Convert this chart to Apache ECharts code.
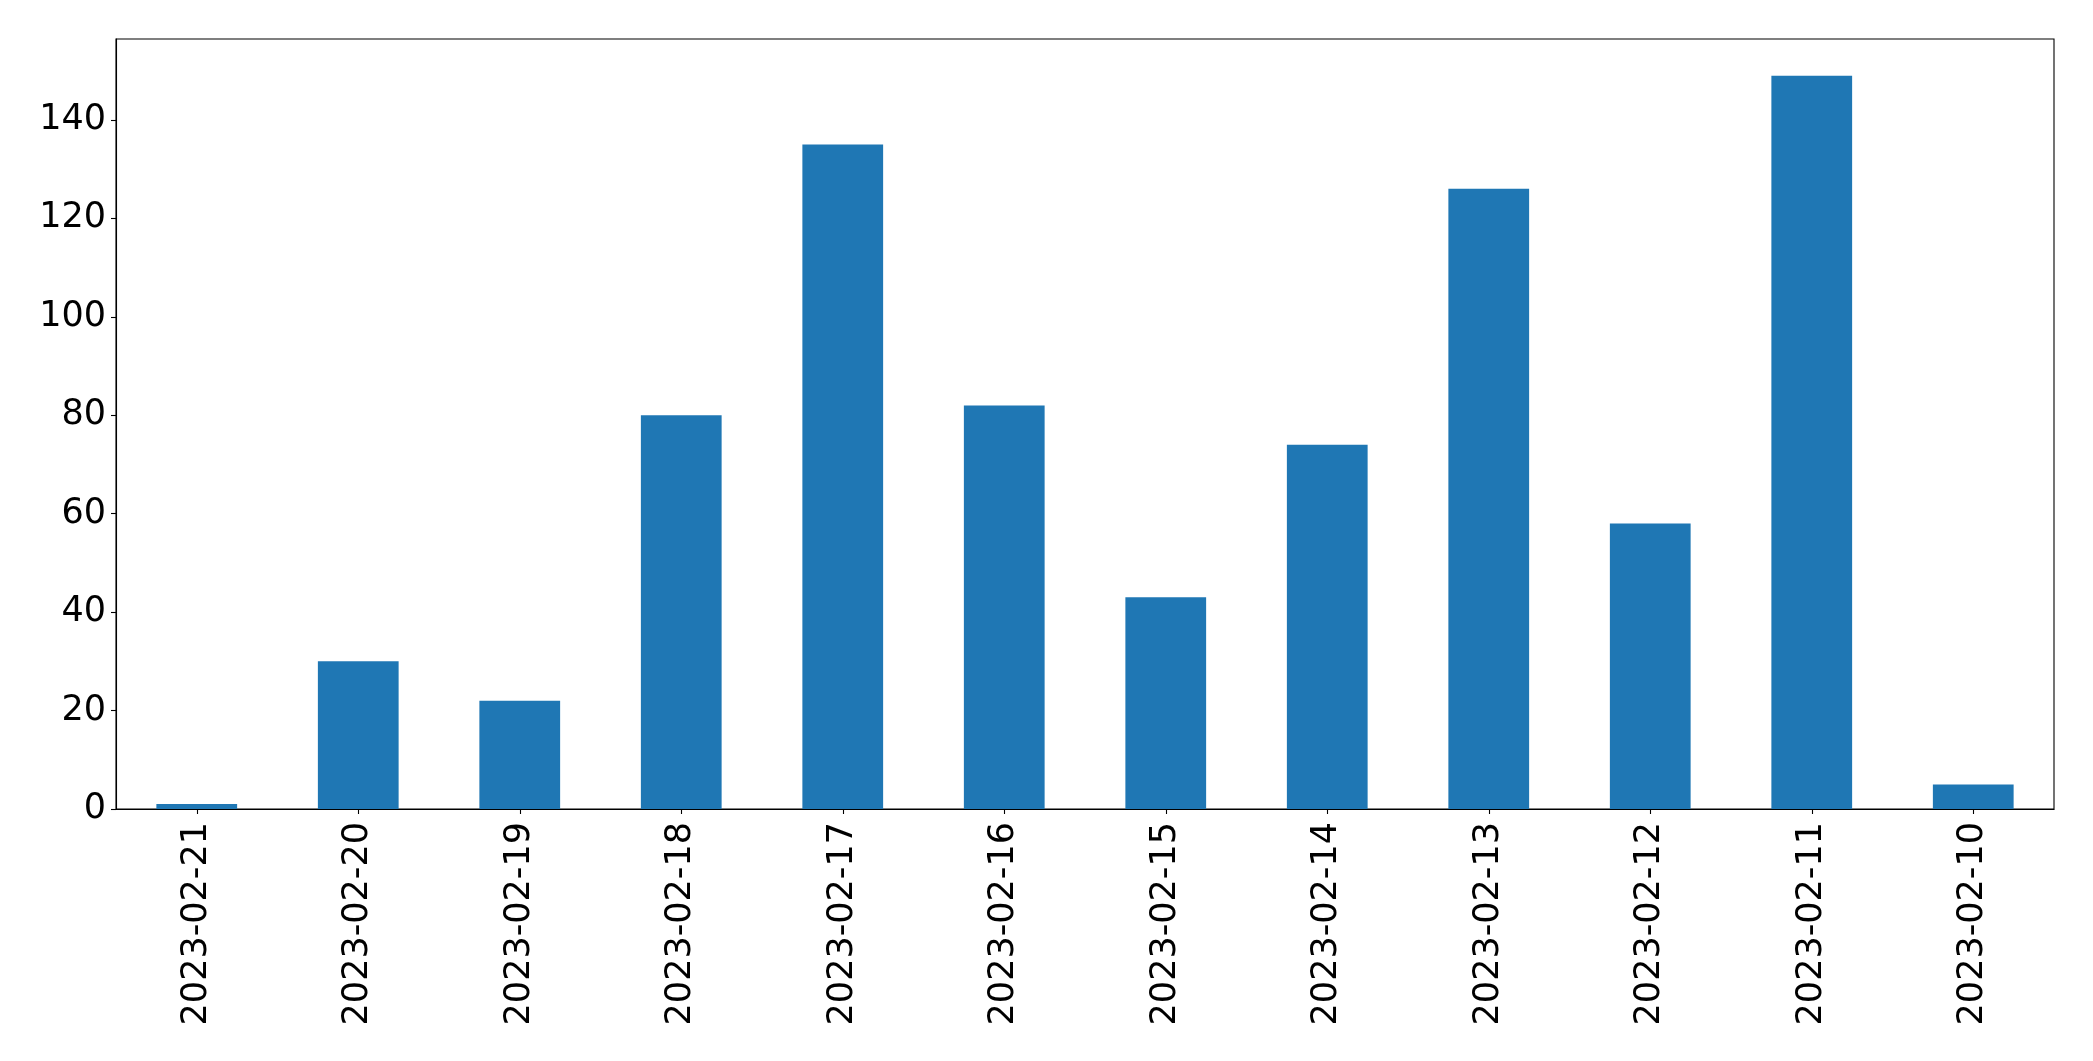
<!DOCTYPE html>
<html>
<head>
<meta charset="utf-8">
<script src="https://cdn.jsdelivr.net/npm/echarts@6/dist/echarts.min.js"></script>
<style>
html,body{margin:0;padding:0;background:#fff;}
#chart{width:2093px;height:1061px;}
</style>
</head>
<body>
<div id="chart"></div>
<script>
const categories = ["2023-02-21","2023-02-20","2023-02-19","2023-02-18","2023-02-17","2023-02-16","2023-02-15","2023-02-14","2023-02-13","2023-02-12","2023-02-11","2023-02-10"];
const values = [1, 30, 22, 80, 135, 82, 43, 74, 126, 58, 149, 5];
const yTicks = [0, 20, 40, 60, 80, 100, 120, 140];
const yMax = 156.45;

const chart = echarts.init(document.getElementById('chart'), null, {renderer: 'canvas'});
const font = 'DejaVu Sans';
chart.setOption({
  animation: false,
  backgroundColor: '#ffffff',
  grid: {
    left: 116, right: 39, top: 39, bottom: 252,
    show: true, borderColor: '#000', borderWidth: 1.1, backgroundColor: 'transparent'
  },
  xAxis: {
    type: 'category',
    data: categories,
    boundaryGap: true,
    axisLine: {show: true, lineStyle: {color: '#000', width: 1.1}},
    axisTick: {show: true, alignWithLabel: true, length: 5, lineStyle: {color: '#000', width: 1.1}},
    axisLabel: {rotate: 90, margin: 13, color: '#000', fontFamily: font, fontSize: 35, interval: 0}
  },
  yAxis: {
    type: 'value',
    min: 0, max: yMax, interval: 20,
    splitLine: {show: false},
    axisLine: {show: true, lineStyle: {color: '#000', width: 1.1}},
    axisTick: {show: true, length: 5, lineStyle: {color: '#000', width: 1.1}},
    axisLabel: {
      margin: 10, color: '#000', fontFamily: font, fontSize: 35,
      showMaxLabel: false,
      formatter: function (v) { return yTicks.indexOf(v) >= 0 ? String(v) : ''; }
    }
  },
  series: [{
    type: 'bar',
    data: values,
    barWidth: '50%',
    itemStyle: {color: '#1f77b4'}
  }]
});
</script>
</body>
</html>
